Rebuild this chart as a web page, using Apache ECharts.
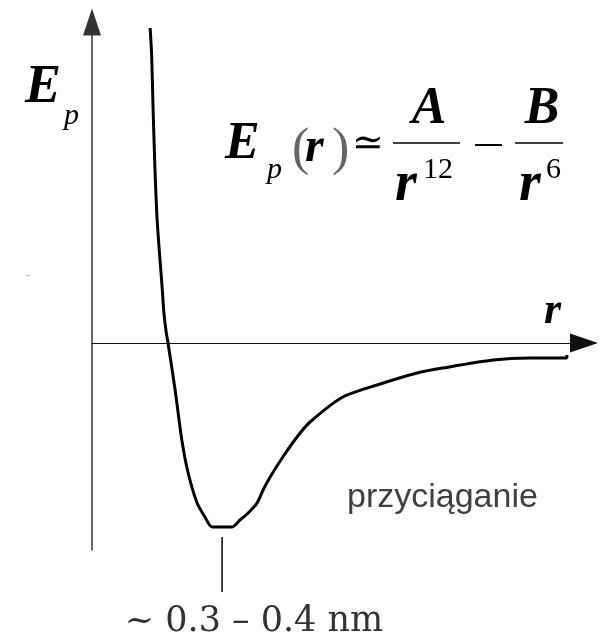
<!DOCTYPE html>
<html>
<head>
<meta charset="utf-8">
<script src="https://cdn.jsdelivr.net/npm/echarts@6/dist/echarts.min.js"></script>
<style>
  html, body { margin: 0; padding: 0; background: #fff; }
  #chart { width: 601px; height: 636px; }
</style>
</head>
<body>
<div id="chart"></div>
<script>
// Lennard-Jones style potential energy curve: distance r (nm) vs Ep (arbitrary units)
const rValues = [0.156, 0.160, 0.164, 0.169, 0.174, 0.180, 0.185, 0.189, 0.193, 0.199,
  0.204, 0.223, 0.241, 0.258, 0.282, 0.303, 0.322, 0.376, 0.397, 0.419,
  0.443, 0.459, 0.478, 0.512, 0.550, 0.585, 0.673, 0.765, 0.872, 0.942,
  1.076, 1.175, 1.274, 1.274];
const epValues = [3.15, 2.88, 2.33, 1.73, 1.28, 0.95, 0.71, 0.51, 0.30, 0.11,
  0.00, -0.47, -0.97, -1.30, -1.60, -1.74, -1.84, -1.84, -1.77, -1.70,
  -1.60, -1.47, -1.34, -1.14, -0.94, -0.79, -0.54, -0.42, -0.30, -0.25,
  -0.17, -0.15, -0.15, -0.12];
// equilibrium distance marked below the well
const rMinMark = 0.349;
const rangeLabel = '~ 0.3 \u2013 0.4 nm';
const regionLabel = 'przyci\u0105ganie';

const curve = rValues.map((r, i) => [r, epValues[i]]);

const chart = echarts.init(document.getElementById('chart'), null, { renderer: 'canvas' });

const bi = { fontFamily: 'Liberation Serif', fontStyle: 'italic', fontWeight: 'bold', fill: '#000' };

function txt(x, y, text, size, extra) {
  return {
    type: 'text', x: x, y: y, silent: true,
    style: Object.assign({ text: text, fontSize: size, verticalAlign: 'middle', align: 'left' }, bi, extra || {})
  };
}

chart.setOption({
  animation: false,
  backgroundColor: '#fff',
  grid: { left: 92, right: 17, top: 22, bottom: 86 },
  xAxis: {
    type: 'value', min: 0, max: 1.32,
    axisLine: { show: true, onZero: true, symbol: ['none', 'triangle'], symbolSize: [19, 28],
      lineStyle: { color: '#111', width: 1.2 } },
    axisTick: { show: false }, axisLabel: { show: false }, splitLine: { show: false }
  },
  yAxis: {
    type: 'value', min: -2.07, max: 3.21,
    axisLine: { show: true, onZero: false, symbol: ['none', 'triangle'], symbolSize: [18, 27],
      lineStyle: { color: '#333', width: 1.5 } },
    axisTick: { show: false }, axisLabel: { show: false }, splitLine: { show: false }
  },
  series: [{
    type: 'line', data: curve, showSymbol: false, smooth: 0.25,
    lineStyle: { color: '#000', width: 3 }, z: 5
  }]
});

const tickX = chart.convertToPixel({ xAxisIndex: 0 }, rMinMark);

chart.setOption({
  graphic: [
    // axis labels
    txt(25, 88, 'E', 54),
    txt(64, 116, 'p', 30, { fontWeight: 'normal' }),
    txt(544, 312, 'r', 44),
    // formula Ep(r) ≃ A/r^12 − B/r^6
    txt(225, 145, 'E', 52),
    txt(267, 170, 'p', 30, { fontWeight: 'normal' }),
    txt(292, 150, '(', 52, { fontWeight: 'normal', fontStyle: 'normal', fill: '#666' }),
    txt(305, 149, 'r', 48),
    txt(332, 150, ')', 52, { fontWeight: 'normal', fontStyle: 'normal', fill: '#666' }),
    txt(352, 145, '\u2243', 38, { fontFamily: 'DejaVu Serif', fontWeight: 'normal', fontStyle: 'normal' }),
    txt(429, 110, 'A', 52, { align: 'center' }),
    { type: 'line', silent: true, shape: { x1: 393, y1: 143, x2: 460, y2: 143 }, style: { stroke: '#000', lineWidth: 1.5 } },
    txt(395, 186, 'r', 56),
    txt(423, 170, '12', 30, { fontWeight: 'normal', fontStyle: 'normal' }),
    { type: 'line', silent: true, shape: { x1: 475, y1: 145, x2: 502, y2: 145 }, style: { stroke: '#000', lineWidth: 2 } },
    txt(542, 110, 'B', 52, { align: 'center' }),
    { type: 'line', silent: true, shape: { x1: 515, y1: 143, x2: 563, y2: 143 }, style: { stroke: '#000', lineWidth: 1.5 } },
    txt(519, 186, 'r', 56),
    txt(546, 170, '6', 30, { fontWeight: 'normal', fontStyle: 'normal' }),
    // attraction region label
    txt(347, 498, regionLabel, 34, { fontFamily: 'Liberation Sans', fontWeight: 'normal', fontStyle: 'normal', fill: '#404040' }),
    // equilibrium distance marker
    { type: 'line', silent: true, shape: { x1: tickX, y1: 537, x2: tickX, y2: 592 }, style: { stroke: '#000', lineWidth: 1.5 } },
    txt(254, 622, rangeLabel, 35, { fontFamily: 'DejaVu Serif', fontWeight: 'normal', fontStyle: 'normal', fill: '#333', align: 'center' }),
    // faint stray mark on the left margin
    { type: 'rect', silent: true, shape: { x: 26, y: 275, width: 4, height: 1 }, style: { fill: '#bbb' } }
  ]
});
</script>
</body>
</html>
